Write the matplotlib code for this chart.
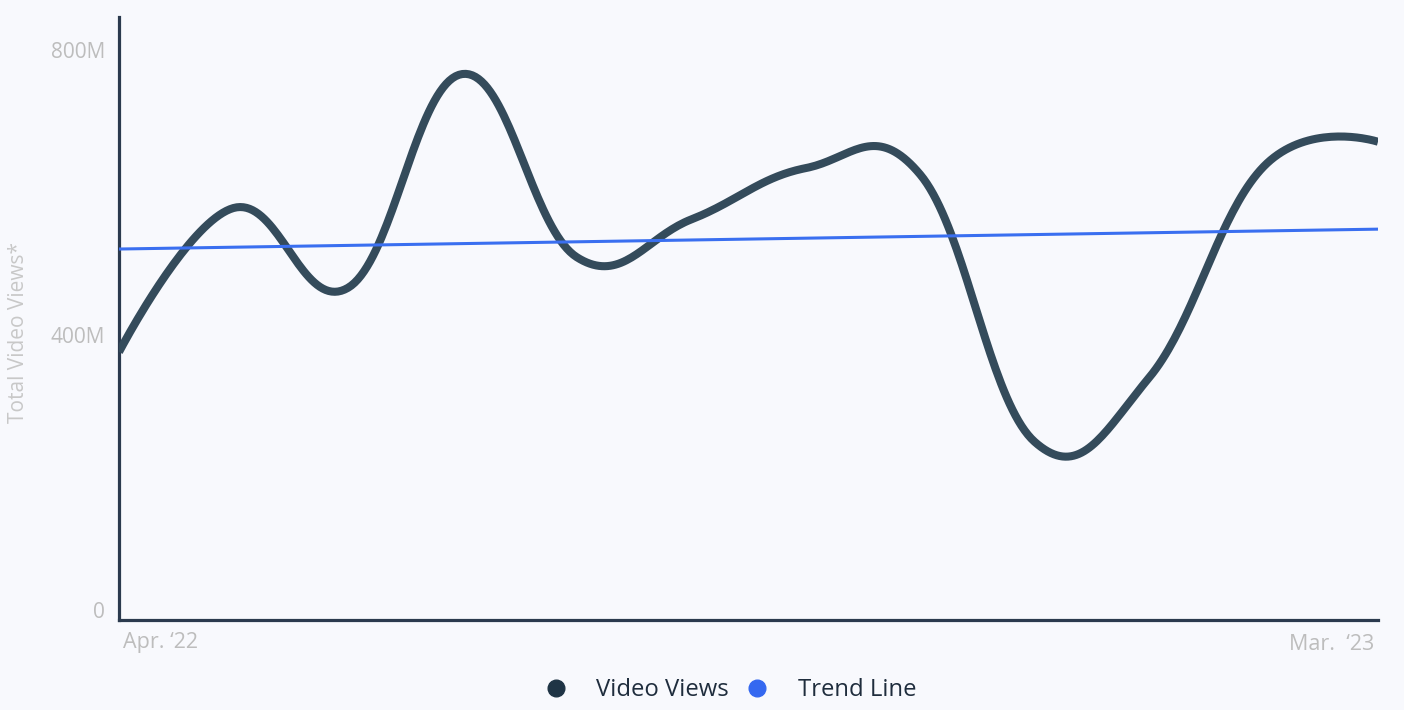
import numpy as np
import matplotlib.pyplot as plt
from matplotlib.lines import Line2D
from matplotlib.transforms import ScaledTranslation

plt.rcParams['font.family'] = ['Open Sans', 'DejaVu Sans']

months = ['Apr. \u201822', 'May', 'Jun.', 'Jul.', 'Aug.', 'Sep.', 'Oct.', 'Nov.', 'Dec.', 'Jan.', 'Feb.', 'Mar.  \u201823']
views = np.array([376, 578, 466, 766, 509, 562, 634, 625, 250, 340, 636, 671]) * 1e6

BG = '#f8f9fd'
LINE_COL = '#344b5b'
TREND_COL = '#3a6ff0'
AXIS_COL = '#2b3a4e'
LABEL_COL = '#bdbdbd'


def spline_path(y, smoothing=1.5, n=40):
    # bezier spline through the points, control points like a charting lib does it
    y = np.asarray(y, dtype=float)
    x = np.arange(len(y), dtype=float)
    k = len(y)
    lc = [(x[i], y[i]) for i in range(k)]
    rc = [(x[i], y[i]) for i in range(k)]
    d = smoothing + 1
    for i in range(1, k - 1):
        lx = (smoothing*x[i] + x[i-1]) / d
        ly = (smoothing*y[i] + y[i-1]) / d
        rx = (smoothing*x[i] + x[i+1]) / d
        ry = (smoothing*y[i] + y[i+1]) / d
        corr = (ry - ly) * (rx - x[i]) / (rx - lx) + y[i] - ry
        lc[i] = (lx, ly + corr)
        rc[i] = (rx, ry + corr)
    xs, ys = [], []
    t = np.linspace(0, 1, n, endpoint=False)[:, None]
    for i in range(k - 1):
        p0 = np.array([x[i], y[i]])
        p1 = np.array(rc[i])
        p2 = np.array(lc[i+1])
        p3 = np.array([x[i+1], y[i+1]])
        b = (1-t)**3*p0 + 3*(1-t)**2*t*p1 + 3*(1-t)*t**2*p2 + t**3*p3
        xs.append(b[:, 0])
        ys.append(b[:, 1])
    xs.append([x[-1]])
    ys.append([y[-1]])
    return np.concatenate(xs), np.concatenate(ys)


x = np.arange(len(views))
sx, sy = spline_path(views)
coef = np.polyfit(x, views, 1)
trend = np.polyval(coef, x)

fig = plt.figure(figsize=(14.04, 7.10), dpi=100)
fig.patch.set_facecolor(BG)
ax = fig.add_axes([119/1404, 90/710, (1378-119)/1404, (620-17)/710])
ax.set_facecolor(BG)

ax.plot(sx, sy, color=LINE_COL, lw=5.8, solid_capstyle='butt', zorder=3)
ax.plot(x, trend, color=TREND_COL, lw=2.2, zorder=4)

ax.set_xlim(0, len(views) - 1)
ax.set_ylim(0, 846e6)

for s in ['top', 'right']:
    ax.spines[s].set_visible(False)
for s in ['left', 'bottom']:
    ax.spines[s].set_color(AXIS_COL)
    ax.spines[s].set_linewidth(2.3)

ax.set_yticks([0, 400e6, 800e6])
ax.set_yticklabels(['0', '400M', '800M'])
ax.tick_params(axis='y', length=0, pad=10, labelsize=15, labelcolor=LABEL_COL)
lbl0 = ax.get_yticklabels()[0]
lbl0.set_transform(lbl0.get_transform() + ScaledTranslation(0, 10/100, fig.dpi_scale_trans))
ax.set_xticks([])

ax.text(4/1259, -0.037, months[0], transform=ax.transAxes, ha='left', va='center',
        fontsize=15.5, color=LABEL_COL)
ax.text(1 - 4/1259, -0.041, months[-1], transform=ax.transAxes, ha='right', va='center',
        fontsize=15.5, color=LABEL_COL)

fig.text(19/1404, 1 - 332/710, 'Total Video Views*', rotation=90, ha='center', va='center',
         fontsize=15, color='#c8c8c8')

handles = [Line2D([], [], marker='o', ls='', markersize=12, color='#1f3445'),
           Line2D([], [], marker='o', ls='', markersize=12, color='#3468f0')]
fig.legend(handles, ['Video Views', 'Trend Line'], loc='center', bbox_to_anchor=(730/1404, 1 - 690/710),
           ncol=2, frameon=False, fontsize=17.2, labelcolor='#1f2d3d', handlelength=1,
           handletextpad=1.2, columnspacing=0.68)

fig.savefig('out.png', dpi=100, facecolor=BG)
